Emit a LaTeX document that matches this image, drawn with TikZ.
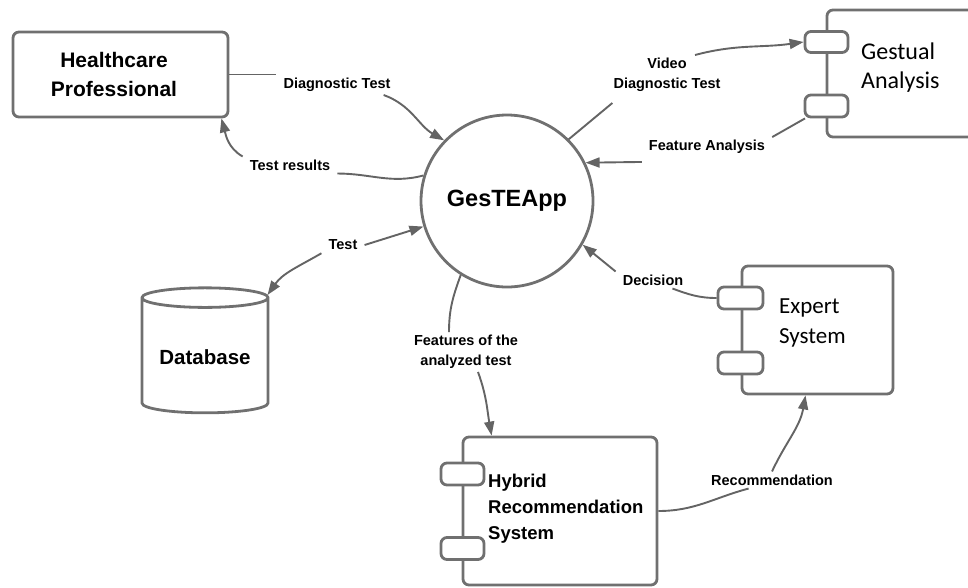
\documentclass[tikz,border=0pt]{standalone}
\usepackage{fontspec}
\setmainfont{Liberation Sans}
\newfontfamily\calibri{Carlito}
\usetikzlibrary{arrows.meta,shapes.geometric}

\definecolor{edgegray}{RGB}{112,112,112}
\definecolor{linegray}{RGB}{100,100,100}

\begin{document}
\begin{tikzpicture}[x=1pt,y=1pt,
  box/.style={draw=edgegray,line width=2.8pt,rounded corners=6pt,fill=white},
  port/.style={draw=edgegray,line width=2.8pt,rounded corners=6pt,fill=white,
    minimum width=43pt,minimum height=21pt,inner sep=0pt},
  boxtext/.style={inner sep=0pt,align=left,anchor=west},
  lbl/.style={font=\bfseries\fontsize{14.5}{20}\selectfont,inner xsep=7pt,
    inner ysep=3pt,align=center},
  link/.style={draw=linegray,line width=1.9pt},
  arr/.style={link,-{Triangle[length=14pt,width=10pt]}}]
\useasboundingbox (0,0) rectangle (968,-587);
\clip (0,0) rectangle (968,-587);

% central application
\node[circle,draw=edgegray,line width=2.8pt,minimum size=172pt,
  font=\bfseries\fontsize{23.5}{28}\selectfont] (gapp) at (507,-201) {GesTEApp};

% actors and components
\node[box,minimum width=215pt,minimum height=85pt] (hp) at (120.5,-74.5) {};
\node[align=center,inner sep=0pt,font=\bfseries\fontsize{21}{29}\selectfont]
  (hpt) at (114,-74) {Healthcare\\Professional};

\node[cylinder,shape border rotate=90,draw=edgegray,line width=2.8pt,aspect=0.2,
  minimum width=126pt,minimum height=125pt,
  font=\bfseries\fontsize{20.5}{24}\selectfont] (db) at (205,-357.5) {Database};

\node[box,minimum width=173pt,minimum height=127pt] (gan) at (913.5,-73.5) {};
\node[port] (ga1) at (826.5,-42) {};
\node[port,minimum height=22pt] (ga2) at (826.5,-106) {};
\node[boxtext,font=\calibri\fontsize{24}{29}\selectfont] (gat) at (861,-67.5)
  {Gestual\\Analysis};

\node[box,minimum width=151pt,minimum height=128pt] (exs) at (817.5,-330) {};
\node[port,minimum width=45pt,minimum height=22pt] (ex1) at (740.5,-298) {};
\node[port,minimum width=45pt,minimum height=22pt] (ex2) at (740.5,-363) {};
\node[boxtext,font=\calibri\fontsize{23}{30}\selectfont] (ext) at (779,-323)
  {Expert\\System};

\node[box,minimum width=194pt,minimum height=148pt] (hrs) at (560,-511) {};
\node[port,minimum height=22pt] (hr1) at (462.5,-474) {};
\node[port,minimum height=22pt] (hr2) at (462.5,-548.5) {};
\node[boxtext,font=\bfseries\fontsize{18.5}{26}\selectfont] (hrt) at (488,-509)
  {Hybrid\\Recommendation\\System};

% flow labels
\node[lbl] (dt) at (337,-85) {Diagnostic Test};
\node[lbl] (tr) at (290,-165) {Test results};
\node[lbl] (vd) at (667,-75) {Video\\Diagnostic Test};
\node[lbl] (fa) at (707,-147) {Feature Analysis};
\node[lbl] (ts) at (343,-245) {Test};
\node[lbl] (dc) at (653,-280) {Decision};
\node[lbl] (ft) at (466,-352) {Features of the\\analyzed test};
\node[lbl] (rc) at (772,-480) {Recommendation};

% flows
\draw[link] (hp.east) -- (hp.east -| dt.west);
\draw[arr] ([xshift=-14pt]dt.south east) to[out=-20,in=150] (gapp.136);

\draw[link] (gapp.163) to[out=195,in=0] (tr.south east);
\draw[arr] (tr.north west) to[out=150,in=-75] ([xshift=-8pt]hp.south east);

\draw[link] (gapp.45) -- ([shift={(6pt,-8pt)}]vd.south west);
\draw[arr] ([xshift=28pt]vd.north) to[out=15,in=188] (ga1.west);

\draw[link] (ga2.-150) -- (fa.north east);
\draw[arr] ([yshift=-5pt]fa.south west) -- (gapp.26);

\draw[arr] (ts.east) -- (gapp.197);
\draw[arr] (ts.south west) to[out=-150,in=55] (db.north east);

\draw[link] (ex1.west) to[out=180,in=-20] ([xshift=-18pt]dc.south east);
\draw[arr] (dc.north west) -- (gapp.-30);

\draw[link] (gapp.238) to[out=250,in=90] ([xshift=-17pt]ft.north);
\draw[arr] ([xshift=12pt]ft.south) to[out=-70,in=100] ([xshift=30pt]hrs.north west);

\draw[link] (hrs.east) to[out=0,in=195] (rc.200);
\draw[arr] (rc.north) to[out=65,in=-100] ([xshift=-12pt]exs.south);
\end{tikzpicture}
\end{document}
